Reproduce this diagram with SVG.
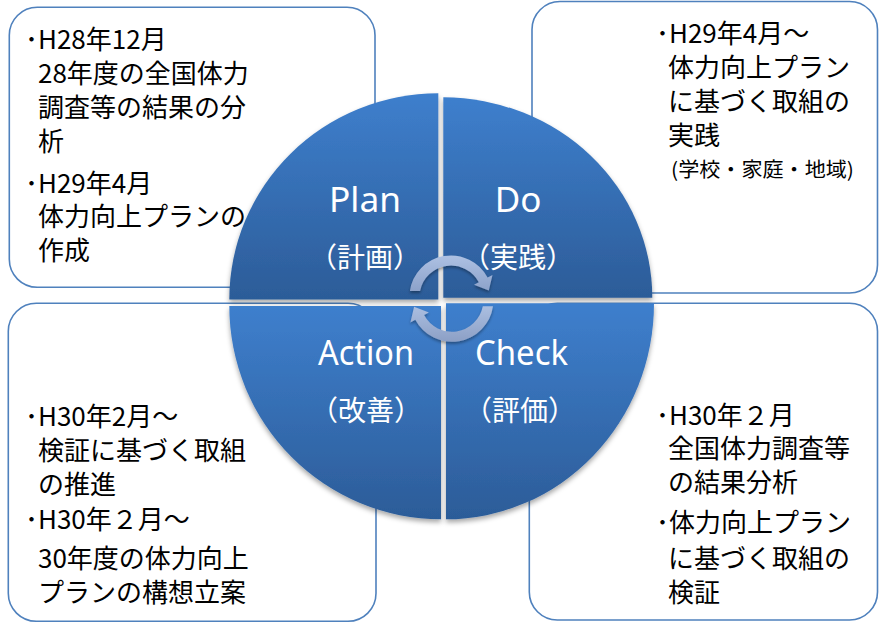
<svg xmlns="http://www.w3.org/2000/svg" width="879" height="623" viewBox="0 0 879 623">
  <style>
    .box { fill: #ffffff; stroke: #4f81bd; stroke-width: 1.6; }
    .note { font-family: "Noto Sans CJK JP", sans-serif; font-size: 26px; fill: #000000; }
    .note-small { font-family: "Noto Sans CJK JP", sans-serif; font-size: 20px; fill: #000000; }
    .quad { fill: url(#quadFill); filter: url(#quadShadow); }
    .en { font-family: "Noto Sans", "Open Sans", sans-serif; font-size: 35px; fill: #ffffff; text-anchor: middle; }
    .ja { font-family: "Noto Sans CJK JP", sans-serif; font-size: 28px; fill: #ffffff; text-anchor: middle; }
  </style>
  <defs>
    <linearGradient id="quadFill" x1="0" y1="0" x2="0" y2="1">
      <stop offset="0" stop-color="#3e7fcd"/>
      <stop offset="1" stop-color="#2c5c98"/>
    </linearGradient>
    <linearGradient id="arrowUpFill" gradientUnits="userSpaceOnUse" x1="0" y1="255" x2="0" y2="292">
      <stop offset="0" stop-color="#aec1e3"/>
      <stop offset="1" stop-color="#8ba1c9"/>
    </linearGradient>
    <linearGradient id="arrowDownFill" gradientUnits="userSpaceOnUse" x1="0" y1="306" x2="0" y2="342">
      <stop offset="0" stop-color="#abbfe1"/>
      <stop offset="1" stop-color="#8c9fc5"/>
    </linearGradient>
    <filter id="quadShadow" x="-10%" y="-10%" width="120%" height="125%">
      <feDropShadow dx="0" dy="3" stdDeviation="2.5" flood-color="#000000" flood-opacity="0.35"/>
    </filter>
    <filter id="arrowShadow" x="-20%" y="-20%" width="140%" height="150%">
      <feDropShadow dx="0" dy="2" stdDeviation="1.5" flood-color="#000000" flood-opacity="0.35"/>
    </filter>
  </defs>

  <rect width="879" height="623" fill="#ffffff"/>

  <!-- note boxes (behind the cycle) -->
  <g id="plan-notes">
    <rect class="box" x="9.3" y="7.3" width="365.7" height="280" rx="28"/>
    <text class="note"><tspan x="25" y="49">･H28年12月</tspan></text>
    <text class="note" x="38" y="83">28年度の全国体力</text>
    <text class="note" x="38" y="117">調査等の結果の分</text>
    <text class="note" x="38" y="151">析</text>
    <text class="note"><tspan x="25" y="193">･H29年4月</tspan></text>
    <text class="note" x="38" y="226">体力向上プランの</text>
    <text class="note" x="38" y="260">作成</text>
  </g>

  <g id="do-notes">
    <rect class="box" x="532" y="1.5" width="345.5" height="291.5" rx="28"/>
    <text class="note"><tspan x="656" y="43">･H29年4月～</tspan></text>
    <text class="note" x="668" y="77">体力向上プラン</text>
    <text class="note" x="668" y="111">に基づく取組の</text>
    <text class="note" x="668" y="145">実践</text>
    <text class="note-small" x="671" y="177" textLength="183" lengthAdjust="spacingAndGlyphs">(学校・家庭・地域)</text>
  </g>

  <g id="action-notes">
    <rect class="box" x="8.3" y="303.3" width="367.7" height="318" rx="28"/>
    <text class="note"><tspan x="25" y="426">･H30年2月～</tspan></text>
    <text class="note" x="38" y="460">検証に基づく取組</text>
    <text class="note" x="38" y="494">の推進</text>
    <text class="note"><tspan x="25" y="529">･H30年２月～</tspan></text>
    <text class="note" x="38" y="568">30年度の体力向上</text>
    <text class="note" x="38" y="602">プランの構想立案</text>
  </g>

  <g id="check-notes">
    <rect class="box" x="529.3" y="303.3" width="348.2" height="316.7" rx="28"/>
    <text class="note"><tspan x="656" y="425">･H30年２月</tspan></text>
    <text class="note" x="668" y="458">全国体力調査等</text>
    <text class="note" x="668" y="492">の結果分析</text>
    <text class="note"><tspan x="656" y="532">･体力向上プラン</tspan></text>
    <text class="note" x="668" y="568">に基づく取組の</text>
    <text class="note" x="668" y="602">検証</text>
  </g>

  <!-- PDCA cycle quadrants -->
  <g id="plan">
    <path class="quad" d="M438.3 299.5 L229.3 299.5 A209 206.2 0 0 1 438.3 93.3 Z"/>
    <text class="en" x="365" y="212" textLength="72" lengthAdjust="spacingAndGlyphs">Plan</text>
    <text class="ja" x="365" y="268">（計画）</text>
  </g>
  <g id="do">
    <path class="quad" d="M443.3 297.7 L443.3 97.3 A209 200.4 0 0 1 652.3 297.7 Z"/>
    <text class="en" x="518" y="212">Do</text>
    <text class="ja" x="518" y="268">（実践）</text>
  </g>
  <g id="action">
    <path class="quad" d="M441 306 L441 519.3 A211.7 213.3 0 0 1 229.3 306 Z"/>
    <text class="en" x="366" y="365" textLength="96" lengthAdjust="spacingAndGlyphs">Action</text>
    <text class="ja" x="366" y="421">（改善）</text>
  </g>
  <g id="check">
    <path class="quad" d="M446 303.3 L654 303.3 A208 216 0 0 1 446 519.3 Z"/>
    <text class="en" x="521.5" y="365" textLength="93" lengthAdjust="spacingAndGlyphs">Check</text>
    <text class="ja" x="520" y="421">（評価）</text>
  </g>

  <!-- circular arrows in the centre -->
  <g id="connectors" filter="url(#arrowShadow)">
    <path fill="url(#arrowUpFill)" d="M409.9 291 A41.5 41.5 0 0 1 487.6 277.5 L492.5 274.9 L488.8 290.5 L474 284.8 L478.8 282.2 A31.5 31.5 0 0 0 420.1 291 Z"/>
    <path fill="url(#arrowDownFill)" d="M493 306.3 A41.5 41.5 0 0 1 415.3 319.8 L410.4 322.4 L414.1 306.8 L428.9 312.5 L424.1 315.1 A31.5 31.5 0 0 0 482.8 306.3 Z"/>
  </g>
</svg>
